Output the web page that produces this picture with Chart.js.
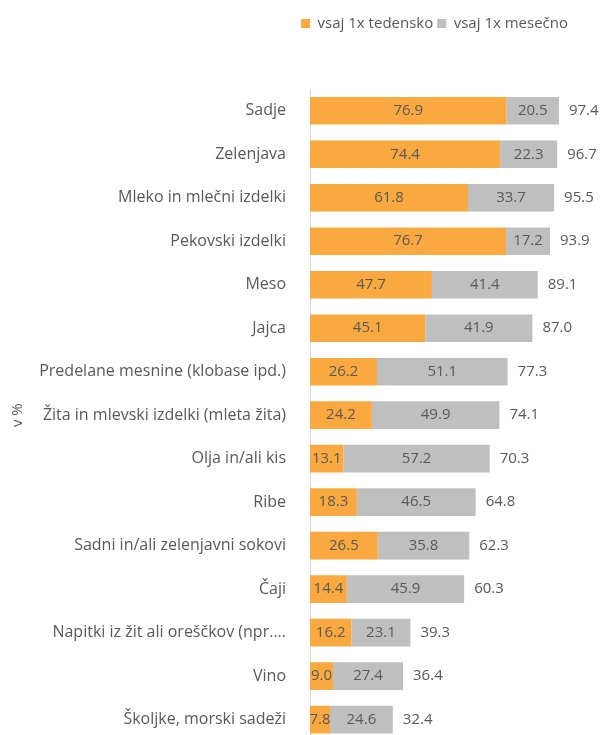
<!DOCTYPE html>
<html>
<head>
<meta charset="utf-8">
<script src="https://cdn.jsdelivr.net/npm/chart.js@4.4.0/dist/chart.umd.min.js"></script>
<style>
  html, body { margin: 0; padding: 0; background: #fff; overflow: hidden; }
</style>
</head>
<body>
<canvas class="mychart" width="607" height="767"></canvas>
<script>
/* podatki */
const kategorije = [
  'Sadje', 'Zelenjava', 'Mleko in mlečni izdelki', 'Pekovski izdelki', 'Meso', 'Jajca',
  'Predelane mesnine (klobase ipd.)', 'Žita in mlevski izdelki (mleta žita)', 'Olja in/ali kis',
  'Ribe', 'Sadni in/ali zelenjavni sokovi', 'Čaji', 'Napitki iz žit ali oreščkov (npr....',
  'Vino', 'Školjke, morski sadeži'
]
const tedensko = [76.9, 74.4, 61.8, 76.7, 47.7, 45.1, 26.2, 24.2, 13.1, 18.3, 26.5, 14.4, 16.2, 9.0, 7.8]
const mesecno = [20.5, 22.3, 33.7, 17.2, 41.4, 41.9, 51.1, 49.9, 57.2, 46.5, 35.8, 45.9, 23.1, 27.4, 24.6]
const skupaj = [97.4, 96.7, 95.5, 93.9, 89.1, 87.0, 77.3, 74.1, 70.3, 64.8, 62.3, 60.3, 39.3, 36.4, 32.4]

const pisava = "'Open Sans', sans-serif"
const sivaBesedilo = '#595959'

// vrednosti v stolpcih in vsote na koncu
const oznake = {
  id: 'oznake',
  afterDatasetsDraw(chart) {
    const ctx = chart.ctx
    ctx.save()
    ctx.font = '15px ' + pisava
    ctx.fillStyle = sivaBesedilo
    ctx.textBaseline = 'middle'
    ctx.textAlign = 'center'
    chart.data.datasets.forEach((ds, i) => {
      chart.getDatasetMeta(i).data.forEach((bar, j) => {
        ctx.fillText(ds.data[j].toFixed(1), (bar.x + bar.base) / 2, bar.y)
      })
    })
    ctx.textAlign = 'left'
    const x = chart.scales.x
    chart.getDatasetMeta(0).data.forEach((bar, j) => {
      ctx.fillText(skupaj[j].toFixed(1), x.getPixelForValue(skupaj[j]) + 10, bar.y)
    })
    ctx.restore()
  }
}

// prostor pod legendo
const razmikLegende = {
  id: 'razmikLegende',
  beforeInit(chart) {
    const fit = chart.legend.fit
    chart.legend.fit = function () {
      fit.bind(chart.legend)()
      this.height += 48
    }
  }
}

let graf = document.querySelector('.mychart').getContext('2d')

const config = {
  type: 'bar',
  data: {
    labels: kategorije,
    datasets: [
      {
        label: 'vsaj 1x tedensko',
        backgroundColor: '#F9A93F',
        data: tedensko
      },
      {
        label: 'vsaj 1x mesečno',
        backgroundColor: '#BFBFBF',
        data: mesecno
      }
    ]
  },
  options: {
    indexAxis: 'y',
    responsive: false,
    animation: false,
    barPercentage: 0.636,
    categoryPercentage: 1,
    layout: { padding: { top: 12, right: 35, bottom: 5, left: 0 } },
    scales: {
      x: {
        stacked: true,
        min: 0,
        max: 102.5,
        display: false
      },
      y: {
        stacked: true,
        grid: { display: false },
        border: { display: true, color: '#D9D9D9' },
        ticks: {
          color: sivaBesedilo,
          font: { family: pisava, size: 16 },
          padding: 16
        },
        title: {
          display: true,
          text: 'v %',
          color: sivaBesedilo,
          font: { family: pisava, size: 15 },
          padding: { top: 9, bottom: 0 }
        },
        afterFit(scale) { scale.width = 310 }
      }
    },
    plugins: {
      tooltip: { enabled: false },
      legend: {
        position: 'top',
        align: 'end',
        labels: {
          color: sivaBesedilo,
          font: { family: pisava, size: 15 },
          boxWidth: 9,
          boxHeight: 9,
          padding: 4
        }
      }
    }
  },
  plugins: [oznake, razmikLegende]
}

var myChart = new Chart(graf, config)
</script>
</body>
</html>
